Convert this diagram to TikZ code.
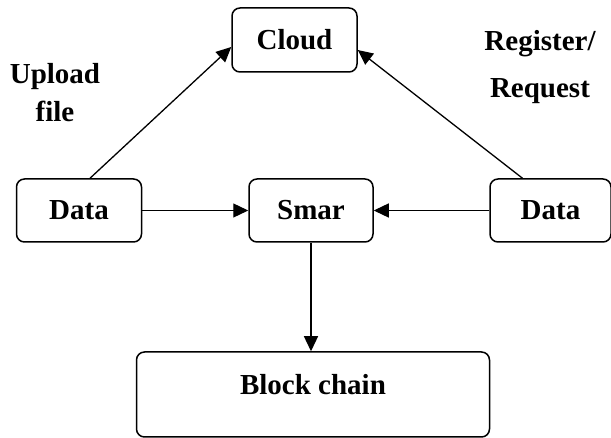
\documentclass[tikz,border=0pt]{standalone}
\usepackage{fontspec}
\setmainfont{Liberation Serif}
\usetikzlibrary{arrows.meta}

\begin{document}
\begin{tikzpicture}[x=1pt, y=-1pt,
  box/.style={draw, line width=1.5pt, rounded corners=8pt, inner sep=0pt, font=\bfseries\fontsize{29}{35}\selectfont},
  lbl/.style={align=center, inner sep=0pt, font=\bfseries\fontsize{29}{38}\selectfont},
  flow/.style={line width=1.3pt, -{Triangle[length=15pt, width=14pt]}}]
\useasboundingbox (0,0) rectangle (611,438);
% boxes
\node[box, minimum width=125pt, minimum height=64pt] (cloud) at (294.5,40) {Cloud};
\node[box, minimum width=125pt, minimum height=63pt] (dataL) at (79,210.5) {Data};
\node[box, minimum width=124pt, minimum height=63pt] (smar) at (311,210.5) {Smar};
\node[box, minimum width=121pt, minimum height=63pt] (dataR) at (550.5,210.5) {Data};
\node[box, minimum width=353pt, minimum height=85pt, text depth=21pt] (chain) at (313,394.5) {Block chain};
% labels
\node[lbl] (upload) at (55,93) {Upload\\file};
\node[lbl, font=\bfseries\fontsize{29}{47}\selectfont] (register) at (540,67) {Register/\\Request};
% connectors
\draw[flow] ([xshift=11pt]dataL.north) -- ([yshift=-7pt]cloud.west);
\draw[flow] ([xshift=-28pt]dataR.north) -- ([yshift=-10pt]cloud.east);
\draw[flow] (dataL.east) -- (smar.west);
\draw[flow] (dataR.west) -- (smar.east);
\draw[flow] (smar.south) -- (smar.south |- chain.north);
\end{tikzpicture}
\end{document}
